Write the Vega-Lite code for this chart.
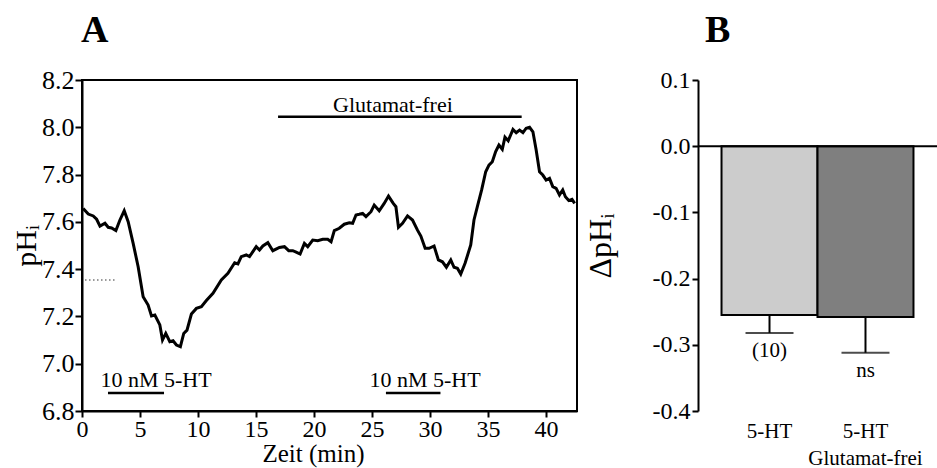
{
  "$schema": "https://vega.github.io/schema/vega-lite/v6.json",
  "autosize": {"type": "none"},
  "padding": {"left": 82, "top": 80, "right": 855, "bottom": 388},
  "background": "white",
  "spacing": 121,
  "bounds": "flush",
  "config": {
    "font": "Liberation Serif",
    "axis": {
      "domainColor": "black", "domainWidth": 2, "tickColor": "black", "tickWidth": 2,
      "labelColor": "black", "titleColor": "black", "labelFont": "Liberation Serif",
      "titleFont": "Liberation Serif", "titleFontWeight": "normal", "grid": false
    },
    "title": {"font": "Liberation Serif", "color": "black"}
  },
  "datasets": {
    "trace": [
      {"t": 0.1, "ph": 7.657}, {"t": 0.54, "ph": 7.633}, {"t": 0.97, "ph": 7.625}, {"t": 1.26, "ph": 7.611},
      {"t": 1.55, "ph": 7.582}, {"t": 1.98, "ph": 7.594}, {"t": 2.26, "ph": 7.577}, {"t": 2.55, "ph": 7.574},
      {"t": 2.92, "ph": 7.563}, {"t": 3.27, "ph": 7.608}, {"t": 3.64, "ph": 7.647}, {"t": 3.98, "ph": 7.601},
      {"t": 4.41, "ph": 7.509}, {"t": 4.84, "ph": 7.41}, {"t": 5.27, "ph": 7.283}, {"t": 5.7, "ph": 7.248},
      {"t": 5.99, "ph": 7.202}, {"t": 6.28, "ph": 7.206}, {"t": 6.71, "ph": 7.164}, {"t": 6.94, "ph": 7.1},
      {"t": 7.22, "ph": 7.128}, {"t": 7.57, "ph": 7.093}, {"t": 7.85, "ph": 7.097}, {"t": 8.14, "ph": 7.079},
      {"t": 8.48, "ph": 7.072}, {"t": 8.77, "ph": 7.128}, {"t": 9.05, "ph": 7.142}, {"t": 9.43, "ph": 7.21},
      {"t": 9.86, "ph": 7.234}, {"t": 10.29, "ph": 7.241}, {"t": 10.72, "ph": 7.267}, {"t": 11.29, "ph": 7.298},
      {"t": 12.01, "ph": 7.354}, {"t": 12.58, "ph": 7.382}, {"t": 13.16, "ph": 7.427}, {"t": 13.44, "ph": 7.422},
      {"t": 13.73, "ph": 7.453}, {"t": 14.16, "ph": 7.46}, {"t": 14.44, "ph": 7.453}, {"t": 14.73, "ph": 7.474},
      {"t": 15.02, "ph": 7.495}, {"t": 15.3, "ph": 7.481}, {"t": 15.59, "ph": 7.498}, {"t": 16.02, "ph": 7.512},
      {"t": 16.45, "ph": 7.478}, {"t": 17.02, "ph": 7.492}, {"t": 17.45, "ph": 7.495}, {"t": 17.82, "ph": 7.478},
      {"t": 18.17, "ph": 7.478}, {"t": 18.46, "ph": 7.472}, {"t": 18.8, "ph": 7.464}, {"t": 19.17, "ph": 7.509},
      {"t": 19.46, "ph": 7.495}, {"t": 19.89, "ph": 7.523}, {"t": 20.32, "ph": 7.52}, {"t": 20.75, "ph": 7.526},
      {"t": 21.18, "ph": 7.526}, {"t": 21.47, "ph": 7.516}, {"t": 21.75, "ph": 7.563}, {"t": 22.18, "ph": 7.573},
      {"t": 22.61, "ph": 7.59}, {"t": 23.04, "ph": 7.596}, {"t": 23.33, "ph": 7.594}, {"t": 23.62, "ph": 7.629},
      {"t": 23.9, "ph": 7.632}, {"t": 24.19, "ph": 7.636}, {"t": 24.48, "ph": 7.622}, {"t": 24.91, "ph": 7.643},
      {"t": 25.19, "ph": 7.671}, {"t": 25.62, "ph": 7.647}, {"t": 26.05, "ph": 7.678}, {"t": 26.42, "ph": 7.709},
      {"t": 26.83, "ph": 7.678}, {"t": 27.06, "ph": 7.664}, {"t": 27.28, "ph": 7.577}, {"t": 27.63, "ph": 7.594},
      {"t": 28.06, "ph": 7.625}, {"t": 28.49, "ph": 7.608}, {"t": 28.92, "ph": 7.565}, {"t": 29.21, "ph": 7.54},
      {"t": 29.58, "ph": 7.488}, {"t": 29.92, "ph": 7.488}, {"t": 30.35, "ph": 7.498}, {"t": 30.72, "ph": 7.439},
      {"t": 31.07, "ph": 7.431}, {"t": 31.41, "ph": 7.408}, {"t": 31.79, "ph": 7.439}, {"t": 32.07, "ph": 7.408},
      {"t": 32.36, "ph": 7.404}, {"t": 32.65, "ph": 7.379}, {"t": 33.02, "ph": 7.425}, {"t": 33.51, "ph": 7.502},
      {"t": 33.79, "ph": 7.608}, {"t": 34.08, "ph": 7.664}, {"t": 34.45, "ph": 7.735}, {"t": 34.8, "ph": 7.812},
      {"t": 35.08, "ph": 7.84}, {"t": 35.37, "ph": 7.854}, {"t": 35.66, "ph": 7.897}, {"t": 35.94, "ph": 7.925},
      {"t": 36.23, "ph": 7.907}, {"t": 36.46, "ph": 7.958}, {"t": 36.74, "ph": 7.943}, {"t": 37.15, "ph": 7.991},
      {"t": 37.43, "ph": 7.977}, {"t": 37.72, "ph": 7.988}, {"t": 38.01, "ph": 7.977}, {"t": 38.29, "ph": 7.996},
      {"t": 38.58, "ph": 8.0}, {"t": 38.87, "ph": 7.981}, {"t": 39.15, "ph": 7.904}, {"t": 39.44, "ph": 7.812},
      {"t": 39.72, "ph": 7.798}, {"t": 40.01, "ph": 7.777}, {"t": 40.3, "ph": 7.784}, {"t": 40.58, "ph": 7.749},
      {"t": 40.87, "ph": 7.742}, {"t": 41.16, "ph": 7.714}, {"t": 41.44, "ph": 7.735}, {"t": 41.67, "ph": 7.706},
      {"t": 41.96, "ph": 7.69}, {"t": 42.24, "ph": 7.695}, {"t": 42.47, "ph": 7.678}
    ],
    "annot": [
      {"t": 16.9, "t2": 37.9, "ph": 8.045},
      {"t": 2.24, "t2": 7.07, "ph": 6.876},
      {"t": 26.2, "t2": 30.9, "ph": 6.876}
    ],
    "dots": [{"t": 0.26, "t2": 2.85, "ph": 7.354}],
    "labels": [
      {"t": 6.38, "ph": 6.901, "label": "10 nM 5-HT"},
      {"t": 29.57, "ph": 6.901, "label": "10 nM 5-HT"},
      {"t": 26.8, "ph": 8.065, "label": "Glutamat-frei"}
    ],
    "bars": [
      {"cond": "5-HT", "val": -0.255, "err": -0.282, "lbl": "(10)"},
      {"cond": "5-HT|Glutamat-frei", "val": -0.258, "err": -0.312, "lbl": "ns"}
    ]
  },
  "hconcat": [
    {
      "width": 495,
      "height": 331,
      "title": {"text": "A", "anchor": "start", "frame": "group", "fontSize": 38, "fontWeight": "bold", "baseline": "alphabetic", "offset": 24, "dx": -1, "dy": 37},
      "view": {"stroke": "black", "strokeWidth": 2},
      "layer": [
        {
          "data": {"name": "trace"},
          "mark": {"type": "line", "color": "black", "strokeWidth": 3, "clip": true},
          "encoding": {
            "x": {"field": "t", "type": "quantitative", "scale": {"domain": [0, 42.67], "nice": false, "zero": false},
              "axis": {"title": "Zeit (min)", "values": [0, 5, 10, 15, 20, 25, 30, 35, 40], "tickSize": 6, "labelPadding": 0,
                "labelFont": "Liberation Serif", "titleFont": "Liberation Serif",
                "labelFontSize": 24, "titleFontSize": 25, "titlePadding": 0, "titleX": 231, "titleAlign": "center", "labelFlush": false}},
            "y": {"field": "ph", "type": "quantitative", "scale": {"domain": [6.8, 8.2], "nice": false, "zero": false},
              "axis": {"title": "pHᵢ", "values": [6.8, 7.0, 7.2, 7.4, 7.6, 7.8, 8.0, 8.2], "format": ".1f", "tickSize": 7, "labelPadding": 1,
                "labelFont": "Liberation Serif", "titleFont": "Liberation Serif",
                "labelFontSize": 26, "titleFontSize": 30, "titlePadding": 0, "labelFlush": false}}
          }
        },
        {
          "data": {"name": "dots"},
          "mark": {"type": "rule", "color": "#777777", "strokeWidth": 1.5, "strokeDash": [1.5, 2.5]},
          "encoding": {
            "x": {"field": "t", "type": "quantitative"},
            "x2": {"field": "t2"},
            "y": {"field": "ph", "type": "quantitative"}
          }
        },
        {
          "data": {"name": "annot"},
          "mark": {"type": "rule", "color": "black", "strokeWidth": 2.5},
          "encoding": {
            "x": {"field": "t", "type": "quantitative"},
            "x2": {"field": "t2"},
            "y": {"field": "ph", "type": "quantitative"}
          }
        },
        {
          "data": {"name": "labels"},
          "mark": {"type": "text", "color": "black", "font": "Liberation Serif", "fontSize": 22, "align": "center", "baseline": "alphabetic"},
          "encoding": {
            "x": {"field": "t", "type": "quantitative"},
            "y": {"field": "ph", "type": "quantitative"},
            "text": {"field": "label"}
          }
        }
      ]
    },
    {
      "width": 239,
      "height": 331,
      "title": {"text": "B", "anchor": "start", "frame": "group", "fontSize": 38, "fontWeight": "bold", "baseline": "alphabetic", "offset": 25, "dx": 7, "dy": 37},
      "view": {"stroke": null},
      "data": {"name": "bars"},
      "layer": [
        {
          "mark": {"type": "bar", "stroke": "black", "strokeWidth": 2},
          "encoding": {
            "x": {"field": "cond", "type": "nominal", "sort": null,
              "scale": {"paddingInner": 0, "paddingOuter": 0.245},
              "axis": {"title": null, "domain": false, "ticks": false, "tickSize": 0, "labelAngle": 0, "labelPadding": 9,
                "labelFont": "Liberation Serif",
                "labelFontSize": 21, "labelLineHeight": 27, "labelExpr": "split(datum.value, '|')"}},
            "y": {"field": "val", "type": "quantitative", "scale": {"domain": [-0.4, 0.1], "nice": false, "zero": false},
              "axis": {"title": "ΔpHᵢ", "values": [0.1, 0, -0.1, -0.2, -0.3, -0.4], "tickSize": 6, "labelPadding": 2,
                "labelFont": "Liberation Serif", "titleFont": "Liberation Serif",
                "labelFontSize": 24, "titleFontSize": 32, "titlePadding": 35, "labelFlush": false,
                "labelExpr": "datum.value < 0 ? '-' + format(-datum.value, '.1f') : format(datum.value, '.1f')"}},
            "fill": {"field": "cond", "type": "nominal", "sort": null,
              "scale": {"range": ["#cccccc", "#7f7f7f"]}, "legend": null}
          }
        },
        {
          "mark": {"type": "rule", "color": "black", "strokeWidth": 2},
          "encoding": {
            "x": {"field": "cond", "type": "nominal", "sort": null},
            "y": {"field": "val", "type": "quantitative"},
            "y2": {"field": "err"}
          }
        },
        {
          "mark": {"type": "tick", "color": "black", "thickness": 2, "size": 48, "orient": "horizontal"},
          "encoding": {
            "x": {"field": "cond", "type": "nominal", "sort": null},
            "y": {"field": "err", "type": "quantitative"}
          }
        },
        {
          "mark": {"type": "text", "color": "black", "font": "Liberation Serif", "fontSize": 21, "align": "center", "baseline": "alphabetic", "dy": 24},
          "encoding": {
            "x": {"field": "cond", "type": "nominal", "sort": null},
            "y": {"field": "err", "type": "quantitative"},
            "text": {"field": "lbl"}
          }
        },
        {
          "data": {"values": [{"val": 0}]},
          "mark": {"type": "rule", "color": "black", "strokeWidth": 2},
          "encoding": {
            "y": {"field": "val", "type": "quantitative"}
          }
        }
      ]
    }
  ]
}
